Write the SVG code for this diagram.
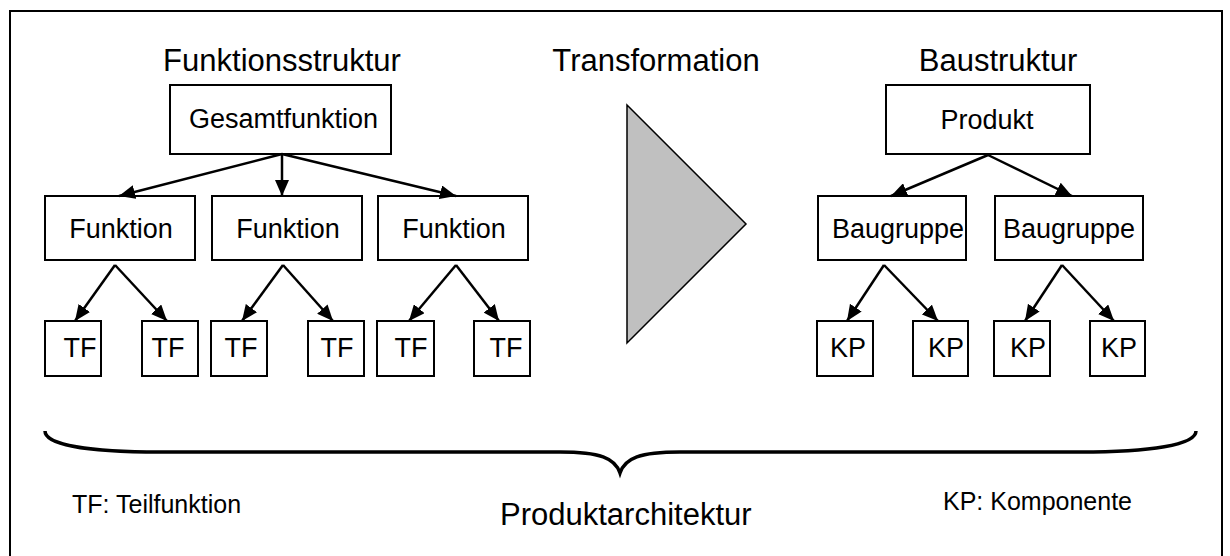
<svg xmlns="http://www.w3.org/2000/svg" width="1230" height="556" viewBox="0 0 1230 556">
<style>
.box{fill:#fff;stroke:#000;stroke-width:2}
.lbl{font-family:"Liberation Sans",Arial,sans-serif;font-size:27px;fill:#000}
.title{font-family:"Liberation Sans",Arial,sans-serif;font-size:31px;fill:#000}
.leg{font-family:"Liberation Sans",Arial,sans-serif;font-size:25px;fill:#000}
.con{stroke:#000;stroke-width:2.5;fill:none;marker-end:url(#ah)}
</style>
<defs>
<marker id="ah" markerUnits="userSpaceOnUse" markerWidth="17" markerHeight="14" refX="16" refY="7" orient="auto">
<path d="M0,0 L16,7 L0,14 z" fill="#000"/>
</marker>
</defs>
<rect x="0" y="0" width="1230" height="556" fill="#fff"/>
<rect x="10" y="11" width="1212" height="560" fill="none" stroke="#000" stroke-width="2"/>

<text class="title" x="282" y="71" text-anchor="middle">Funktionsstruktur</text>
<text class="title" x="656" y="71" text-anchor="middle">Transformation</text>
<text class="title" x="998" y="71" text-anchor="middle">Baustruktur</text>

<g id="transformation">
<polygon points="627,105 746,224 627,343" fill="#c0c0c0" stroke="#000" stroke-width="1.5"/>
</g>

<g id="gesamtfunktion"><rect class="box" x="170" y="85" width="221" height="69"/><text class="lbl" x="189" y="128">Gesamtfunktion</text></g>
<g id="funktion1"><rect class="box" x="45" y="196" width="150" height="64"/><text class="lbl" x="121" y="238" text-anchor="middle">Funktion</text></g>
<g id="funktion2"><rect class="box" x="212" y="196" width="150" height="64"/><text class="lbl" x="288" y="238" text-anchor="middle">Funktion</text></g>
<g id="funktion3"><rect class="box" x="378" y="196" width="150" height="64"/><text class="lbl" x="454" y="238" text-anchor="middle">Funktion</text></g>

<g id="tf1"><rect class="box" x="45" y="321" width="56" height="55"/><text class="lbl" x="80" y="357" text-anchor="middle">TF</text></g>
<g id="tf2"><rect class="box" x="142" y="321" width="56" height="55"/><text class="lbl" x="168" y="357" text-anchor="middle">TF</text></g>
<g id="tf3"><rect class="box" x="211" y="321" width="56" height="55"/><text class="lbl" x="241" y="357" text-anchor="middle">TF</text></g>
<g id="tf4"><rect class="box" x="308" y="321" width="56" height="55"/><text class="lbl" x="337" y="357" text-anchor="middle">TF</text></g>
<g id="tf5"><rect class="box" x="377" y="321" width="57" height="55"/><text class="lbl" x="411" y="357" text-anchor="middle">TF</text></g>
<g id="tf6"><rect class="box" x="474" y="321" width="56" height="55"/><text class="lbl" x="506" y="357" text-anchor="middle">TF</text></g>

<g id="produkt"><rect class="box" x="886" y="85" width="204" height="69"/><text class="lbl" x="987" y="129" text-anchor="middle">Produkt</text></g>
<g id="baugruppe1"><rect class="box" x="818" y="196" width="148" height="64"/><text class="lbl" x="832" y="238">Baugruppe</text></g>
<g id="baugruppe2"><rect class="box" x="995" y="196" width="148" height="64"/><text class="lbl" x="1069" y="238" text-anchor="middle">Baugruppe</text></g>

<g id="kp1"><rect class="box" x="817" y="321" width="56" height="55"/><text class="lbl" x="848" y="357" text-anchor="middle">KP</text></g>
<g id="kp2"><rect class="box" x="913" y="321" width="55" height="55"/><text class="lbl" x="946" y="357" text-anchor="middle">KP</text></g>
<g id="kp3"><rect class="box" x="994" y="321" width="56" height="55"/><text class="lbl" x="1028" y="357" text-anchor="middle">KP</text></g>
<g id="kp4"><rect class="box" x="1090" y="321" width="55" height="55"/><text class="lbl" x="1119" y="357" text-anchor="middle">KP</text></g>

<g id="connectors">
<line class="con" x1="282" y1="154" x2="119" y2="196"/>
<line class="con" x1="282" y1="154" x2="282" y2="196"/>
<line class="con" x1="282" y1="154" x2="456" y2="196"/>
<line class="con" x1="115" y1="265" x2="75" y2="321"/>
<line class="con" x1="115" y1="265" x2="167" y2="321"/>
<line class="con" x1="283" y1="265" x2="242" y2="321"/>
<line class="con" x1="283" y1="265" x2="333" y2="321"/>
<line class="con" x1="456" y1="265" x2="409" y2="321"/>
<line class="con" x1="456" y1="265" x2="499" y2="321"/>
<line class="con" x1="988" y1="155" x2="891" y2="196"/>
<line class="con" x1="988" y1="155" x2="1072" y2="196"/>
<line class="con" x1="884" y1="265" x2="847" y2="321"/>
<line class="con" x1="884" y1="265" x2="938" y2="321"/>
<line class="con" x1="1062" y1="265" x2="1025" y2="321"/>
<line class="con" x1="1062" y1="265" x2="1114" y2="321"/>
</g>

<g id="brace">
<path d="M45,431 C45,445 90,452 160,452 L560,452 C600,452 615,458 620,473 C625,458 640,452 680,452 L1080,452 C1150,452 1196,445 1196,431" fill="none" stroke="#000" stroke-width="3.5"/>
</g>

<text class="leg" x="72" y="513">TF: Teilfunktion</text>
<text class="title" x="500" y="525">Produktarchitektur</text>
<text class="leg" x="943" y="510">KP: Komponente</text>
</svg>
